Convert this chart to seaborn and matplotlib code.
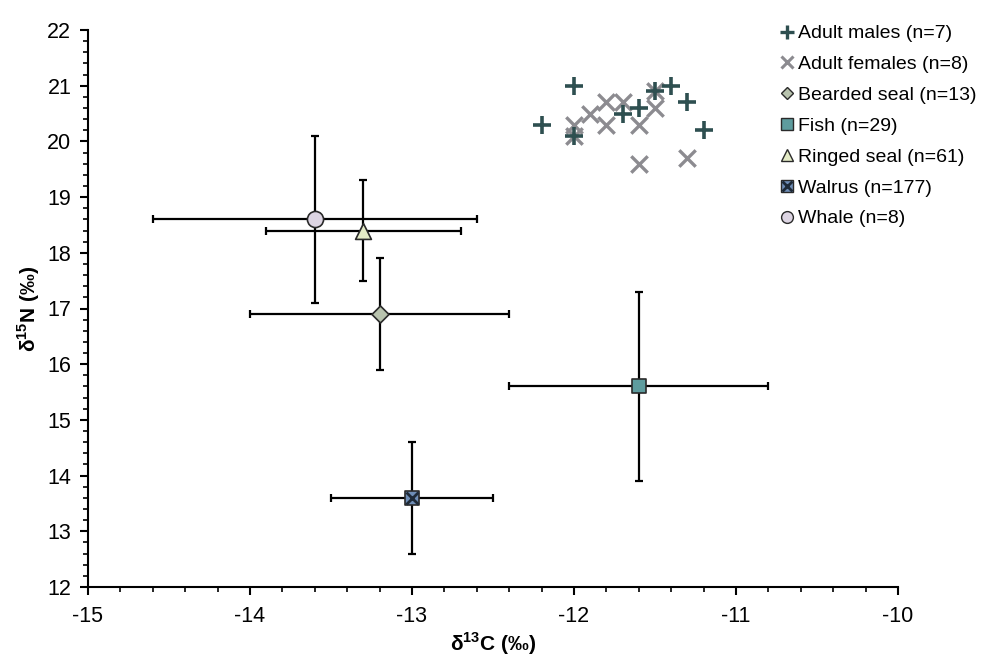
import matplotlib
matplotlib.use("Agg")
import matplotlib.pyplot as plt
import seaborn as sns
import pandas as pd
from matplotlib.ticker import MultipleLocator
from matplotlib.lines import Line2D
from matplotlib.legend_handler import HandlerTuple

# ---- data ----
male_c13 = [-12.0, -12.2, -12.0, -11.7, -11.6, -11.5, -11.4, -11.3, -11.2]
male_n15 = [21.0, 20.3, 20.1, 20.5, 20.6, 20.9, 21.0, 20.7, 20.2]
female_c13 = [-12.0, -12.0, -11.9, -11.8, -11.8, -11.7, -11.6, -11.5, -11.5, -11.6, -11.3]
female_n15 = [20.3, 20.1, 20.5, 20.7, 20.3, 20.7, 20.3, 20.9, 20.6, 19.6, 19.7]

prey_labels = ["Bearded seal (n=13)", "Fish (n=29)", "Ringed seal (n=61)", "Walrus (n=177)", "Whale (n=8)"]
prey_c13 = [-13.2, -11.6, -13.3, -13.0, -13.6]
prey_n15 = [16.9, 15.6, 18.4, 13.6, 18.6]
prey_c13_sd = [0.8, 0.8, 0.6, 0.5, 1.0]
prey_n15_sd = [1.0, 1.7, 0.9, 1.0, 1.5]

male_label = "Adult males (n=7)"
female_label = "Adult females (n=8)"

x_ticks = [-15, -14, -13, -12, -11, -10]
y_ticks = list(range(12, 23))

# ---- style ----
sns.set_style("ticks")
plt.rcParams["font.family"] = ["Liberation Sans", "DejaVu Sans"]
plt.rcParams["mathtext.fontset"] = "custom"
plt.rcParams["mathtext.rm"] = "Liberation Sans"
plt.rcParams["mathtext.bf"] = "Liberation Sans:bold"
plt.rcParams["axes.unicode_minus"] = False
plt.rcParams["text.color"] = "black"
plt.rcParams["axes.labelcolor"] = "black"

male_color = "#2E4F50"
female_color = "#8C8B90"
edge = "#2A2A2A"
prey_markers = ["D", "s", "^", "s", "o"]
prey_colors = ["#B8C3AE", "#5E9C9E", "#E4EBC6", "#6E8DB6", "#DDD5E3"]
prey_sizes = [75, 100, 130, 100, 135]

fig = plt.figure(figsize=(9.87, 6.6), dpi=100)
ax = fig.add_axes([88 / 987, 1 - 587 / 660, (898 - 88) / 987, (587 - 30) / 660])

# error bars
ax.errorbar(prey_c13, prey_n15, xerr=prey_c13_sd, yerr=prey_n15_sd, fmt="none",
            ecolor="black", elinewidth=1.6, capsize=3, capthick=1.6, zorder=2)

# prey means
for i, lab in enumerate(prey_labels):
    sns.scatterplot(x=[prey_c13[i]], y=[prey_n15[i]], marker=prey_markers[i],
                    s=prey_sizes[i], color=prey_colors[i], edgecolor=edge,
                    linewidth=1.2, zorder=3, ax=ax, legend=False)
# walrus X overlay
wi = prey_labels.index("Walrus (n=177)")
ax.scatter([prey_c13[wi]], [prey_n15[wi]], marker="x", s=75, color="#1E2A38",
           linewidths=2.0, zorder=4)

# individuals
df_f = pd.DataFrame({"c13": female_c13, "n15": female_n15})
df_m = pd.DataFrame({"c13": male_c13, "n15": male_n15})
sns.scatterplot(data=df_f, x="c13", y="n15", marker="x", s=140, color=female_color,
                linewidth=2.4, zorder=5, ax=ax, legend=False)
sns.scatterplot(data=df_m, x="c13", y="n15", marker="+", s=170, color=male_color,
                linewidth=2.6, zorder=6, ax=ax, legend=False)

# axes
ax.set_xlim(-15, -10)
ax.set_ylim(12, 22)
ax.set_xticks(x_ticks)
ax.set_yticks(y_ticks)
ax.xaxis.set_minor_locator(MultipleLocator(0.2))
ax.yaxis.set_minor_locator(MultipleLocator(0.2))
ax.tick_params(axis="both", which="major", direction="out", length=6, width=1.5,
               labelsize=15.5, color="black", labelcolor="black")
ax.tick_params(axis="both", which="minor", direction="out", length=3.5, width=1.2, color="black")
ax.tick_params(axis="x", pad=8)
ax.tick_params(axis="y", pad=6)
sns.despine(ax=ax)
for sp in ["left", "bottom"]:
    ax.spines[sp].set_linewidth(1.5)
    ax.spines[sp].set_color("black")

ax.set_xlabel("δ$^{\\mathbf{13}}$C (‰)", fontsize=15, fontweight="bold", labelpad=2)
ax.set_ylabel("δ$^{\\mathbf{15}}$N (‰)", fontsize=15, fontweight="bold", labelpad=4)

# legend
handles = [
    Line2D([], [], marker="+", color=male_color, markersize=10, mew=2.4, linestyle="none"),
    Line2D([], [], marker="x", color=female_color, markersize=8.5, mew=2.2, linestyle="none"),
]
for i, lab in enumerate(prey_labels):
    h = Line2D([], [], marker=prey_markers[i], markerfacecolor=prey_colors[i],
               markeredgecolor=edge, markersize=8.5 if prey_markers[i] != "D" else 6.5,
               mew=1.0, linestyle="none")
    if i == wi:
        h = (h, Line2D([], [], marker="x", color="#1E2A38", markersize=7, mew=2.0, linestyle="none"))
    handles.append(h)
labels = [male_label, female_label] + prey_labels
fig.legend(handles, labels, loc="upper left", bbox_to_anchor=(770 / 987, 1 - 17 / 660),
           frameon=False, fontsize=14, handlelength=0.9, handletextpad=0.15,
           labelspacing=0.68, borderaxespad=0, labelcolor="black",
           handler_map={tuple: HandlerTuple(ndivide=1)})

fig.savefig("out.png", dpi=100)
